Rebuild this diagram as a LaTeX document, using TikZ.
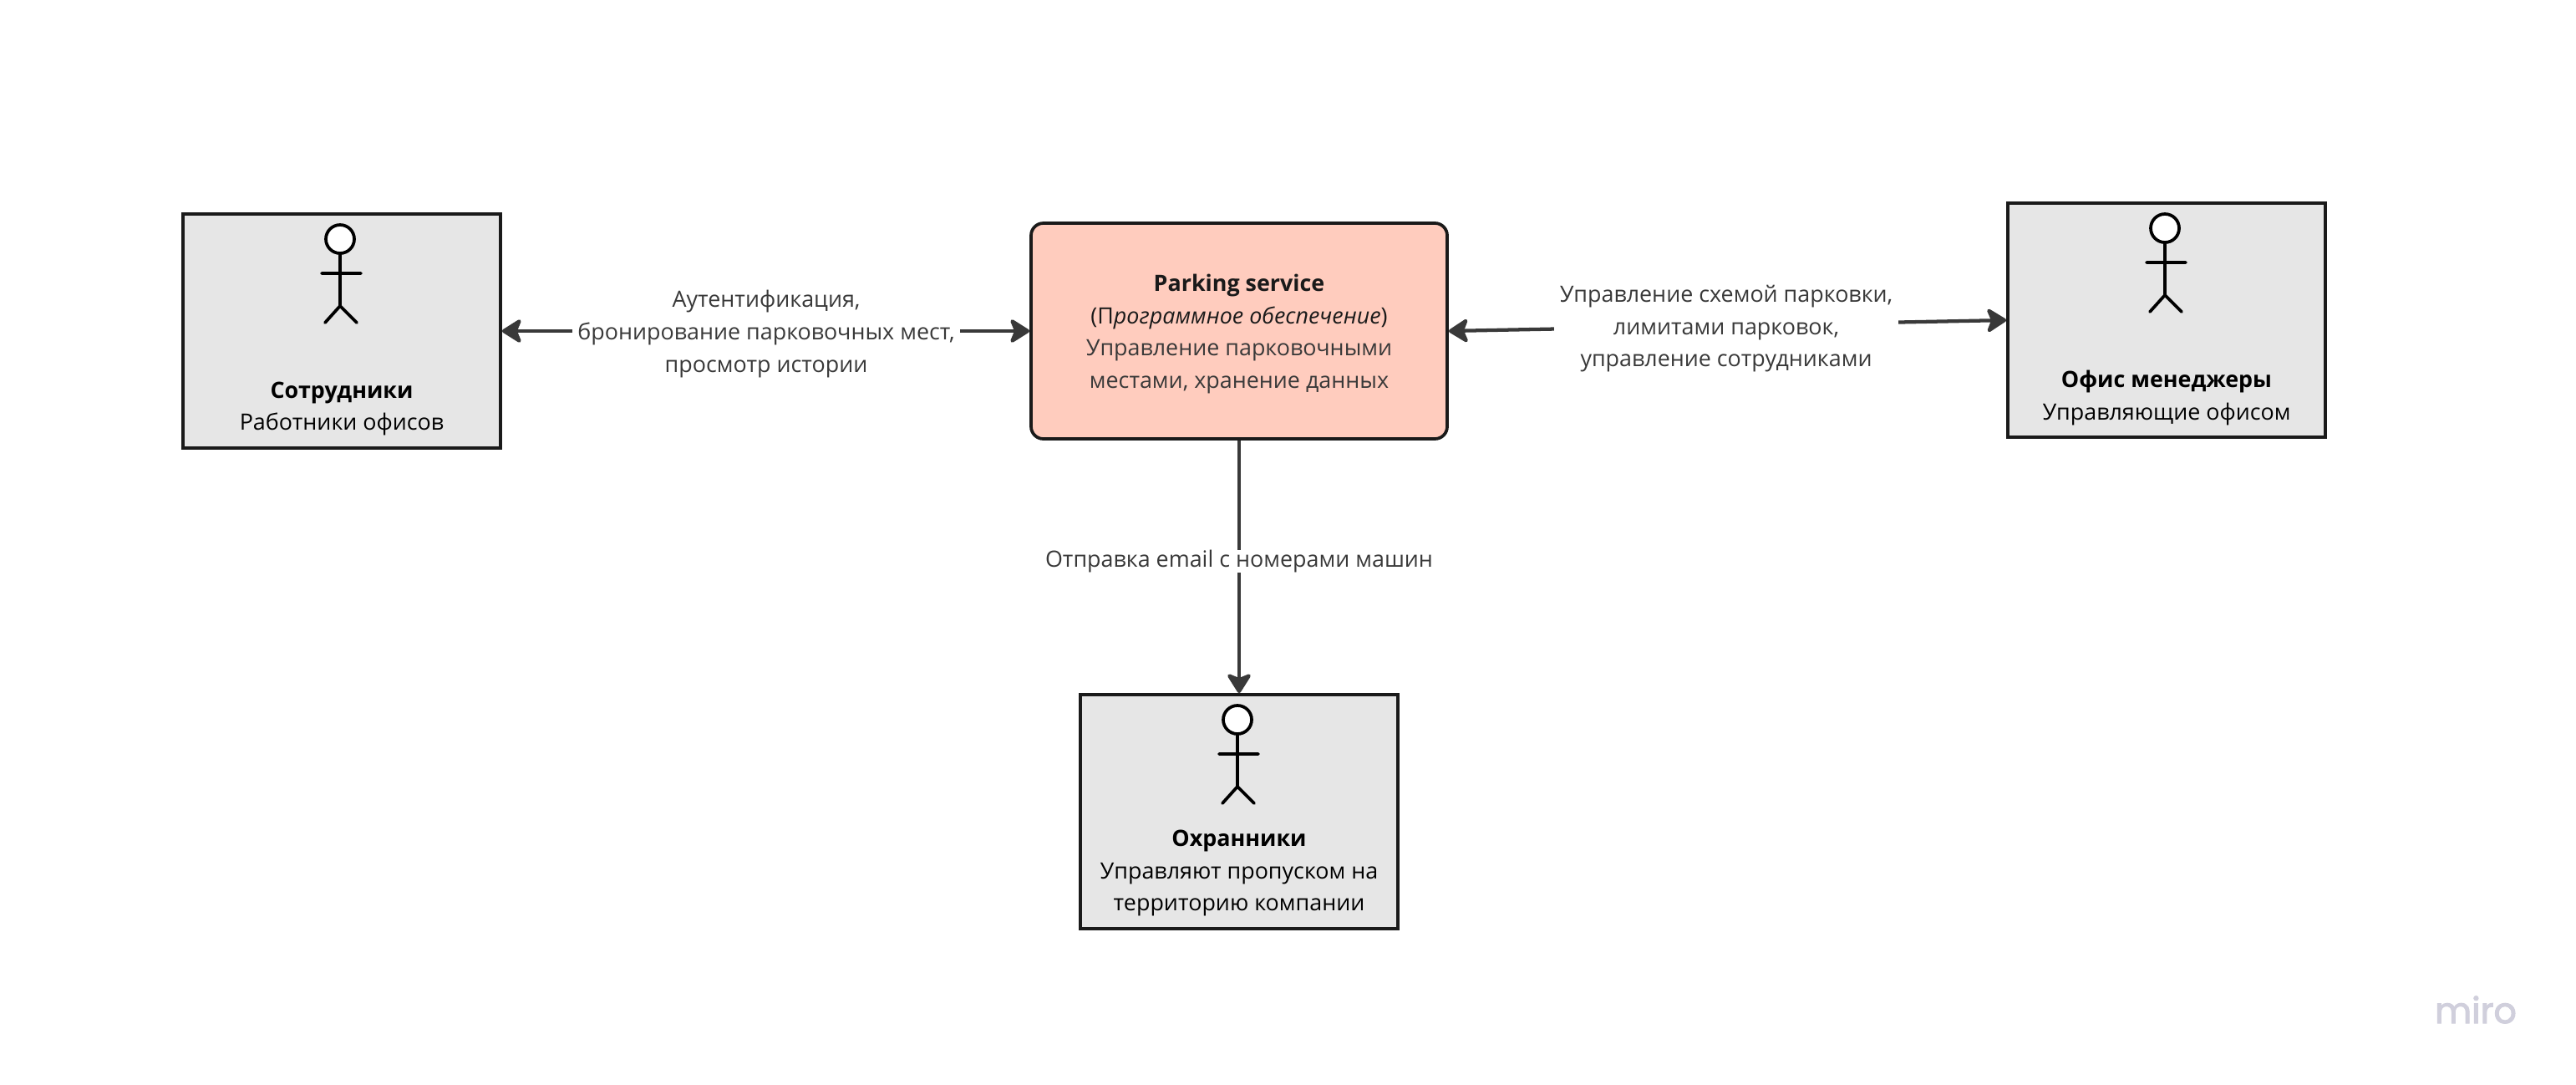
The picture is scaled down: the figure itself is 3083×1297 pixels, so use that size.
\documentclass[tikz,border=0pt]{standalone}
\usepackage{fontspec}
\setmainfont{Open Sans}
\newfontfamily\miroface[FakeBold=2.5]{Poppins}
\usetikzlibrary{arrows.meta}
\definecolor{boxgray}{HTML}{E6E6E6}
\definecolor{svcfill}{HTML}{FFCCBE}
\definecolor{strokeink}{HTML}{1A1A1A}
\definecolor{lineink}{HTML}{393939}
\definecolor{miroink}{HTML}{D0CFDC}
\tikzset{
  x=0.75pt,y=-0.75pt,
  actorbox/.style={draw=strokeink,fill=boxgray,line width=2.8pt,minimum width=285pt,minimum height=210pt,inner sep=0pt},
  svcbox/.style={draw=strokeink,fill=svcfill,line width=2.8pt,rounded corners=11pt,minimum width=373.5pt,minimum height=193.5pt,inner sep=0pt},
  bodytext/.style={font=\fontsize{20.15}{28.9}\selectfont,align=center,inner sep=0pt,text=black},
  edgetext/.style={font=\fontsize{20.15}{28.9}\selectfont,align=center,fill=white,text=lineink,inner xsep=5pt,inner ysep=0pt},
  link/.style={draw=lineink,line width=3.2pt,line join=round,>={Stealth[length=20pt,width=25pt,inset=5pt,round]}},
  pics/actor/.style={code={
    \draw[black,line width=2.8pt,fill=white] (-2,-110) circle[radius=17];
    \draw[black,line width=2.8pt,line cap=round] (-2,-93) -- (-2,-30)
      (-24,-69) -- (23,-69)
      (-20,-10) -- (-2,-30) -- (18,-10);
  }}
}
\begin{document}
\begin{tikzpicture}
\useasboundingbox[fill=white] (0,0) rectangle (3083,1297);
\node[actorbox] (emp) at (409,396) {};
\node[actorbox] (mgr) at (2593,383) {};
\node[actorbox] (grd) at (1483,971) {};
\node[svcbox] (svc) at (1483,396) {};
\pic at (emp.center) {actor};
\pic at (mgr.center) {actor};
\pic at (grd.center) {actor};
\node[bodytext] (empt) at (409,489) {\textbf{Сотрудники}\\Работники офисов};
\node[bodytext] (mgrt) at (2593,476) {\textbf{Офис менеджеры}\\Управляющие офисом};
\node[bodytext] (grdt) at (1483,1044.5) {\textbf{Охранники}\\Управляют пропуском на\\территорию компании};
\node[bodytext] (svct) at (1483,399.5) {\textcolor{strokeink}{\textbf{Parking service}}\\\textcolor{strokeink}{(П\textit{рограммное обеспечение})}\\\textcolor{lineink}{Управление парковочными}\\\textcolor{lineink}{местами, хранение данных}};
\draw[link,<->] (emp.east) -- (svc.west);
\draw[link,<->] (svc.east) -- (mgr.west);
\draw[link,->] (svc.south) -- (grd.north);
\node[edgetext] (l1) at (917,399.5) {Аутентификация,\\бронирование парковочных мест,\\просмотр истории};
\node[edgetext] (l2) at (2066,393.5) {Управление схемой парковки,\\лимитами парковок,\\управление сотрудниками};
\node[edgetext] (l3) at (1483,671.5) {Отправка email с номерами машин};
\node[font=\fontsize{32}{36}\selectfont\miroface,text=miroink,anchor=base,inner sep=0pt] (logo) at (2963,1224) {miro};
\end{tikzpicture}
\end{document}
